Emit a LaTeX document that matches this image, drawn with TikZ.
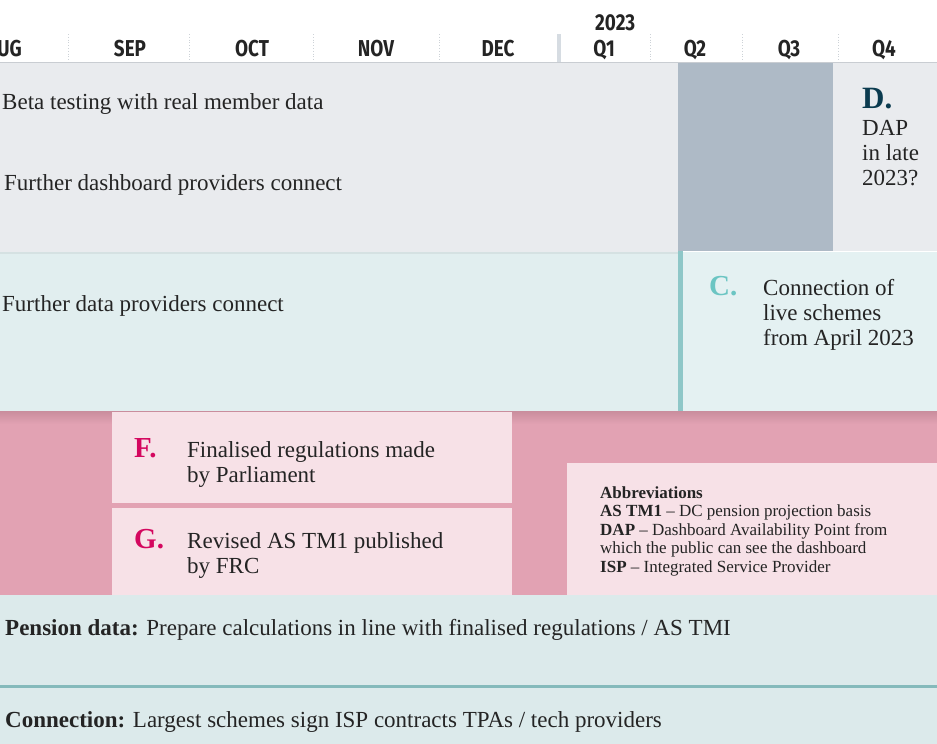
\documentclass[tikz,border=0pt]{standalone}
\usepackage{fontspec}
\setmainfont{Liberation Serif}
\newfontfamily\hdrfont[FakeStretch=0.82]{Fira Sans}

\definecolor{ink}{HTML}{242424}
\definecolor{hdrline}{HTML}{C9CDD2}
\definecolor{tick}{HTML}{CDD2D7}
\definecolor{yearbar}{HTML}{D6DCE2}
\definecolor{rowgray}{HTML}{E9EBEE}
\definecolor{slate}{HTML}{AEBAC6}
\definecolor{rowteal}{HTML}{E1EEEF}
\definecolor{panelteal}{HTML}{E4F1F2}
\definecolor{tealbar}{HTML}{8EC7C8}
\definecolor{rowpink}{HTML}{E2A2B3}
\definecolor{pinkshade}{HTML}{C98D9D}
\definecolor{boxpink}{HTML}{F7E1E7}
\definecolor{rowbase}{HTML}{DCEAEB}
\definecolor{tealrule}{HTML}{85BABB}
\definecolor{navyD}{HTML}{0B3B4F}
\definecolor{tealC}{HTML}{6BC5C3}
\definecolor{magenta}{HTML}{D4075F}

\tikzset{
  txt/.style={inner sep=0pt, anchor=base west, text=ink,
    font=\fontsize{23}{25}\selectfont},
  letter/.style={inner sep=0pt, anchor=base west,
    font=\fontsize{29}{30}\selectfont\bfseries},
  month/.style={inner sep=0pt, anchor=base, text=ink,
    font=\hdrfont\bfseries\fontsize{23}{23}\selectfont},
  abbr/.style={inner sep=0pt, anchor=base west, text=ink,
    font=\fontsize{17}{18}\selectfont},
  tickline/.style={draw=tick, line width=0.8pt, dotted},
}

\begin{document}
\begin{tikzpicture}[x=1pt,y=-1pt]
\useasboundingbox (0,0) rectangle (937,744);
\fill[white] (0,0) rectangle (937,744);

% ---------- header: months and quarters ----------
\foreach \xx in {68,189,313,439,650,742,838}
  \draw[tickline] (\xx,34) -- (\xx,62);
\fill[yearbar] (557,34) rectangle (561,62);
\draw[hdrline, line width=1.2pt] (0,62.5) -- (937,62.5);

\node[month, anchor=base east] (aug) at (22,56) {AUG};
\node[month] (sep) at (130,56) {SEP};
\node[month] (oct) at (252,56) {OCT};
\node[month] (nov) at (376,56) {NOV};
\node[month] (dec) at (498,56) {DEC};
\node[month] (q1) at (604,56) {Q1};
\node[month] (q2) at (695,56) {Q2};
\node[month] (q3) at (789,56) {Q3};
\node[month] (q4) at (884,56) {Q4};
\node[month, anchor=base west] (year) at (595,30) {2023};

% ---------- row 1: dashboards ----------
\fill[rowgray] (0,63) rectangle (937,252);
\fill[slate] (678,63) rectangle (833,251);
\node[txt] (beta) at (2,109) {Beta testing with real member data};
\node[txt] (dash) at (4,190) {Further dashboard providers connect};
\node[letter, text=navyD, font=\fontsize{31}{32}\selectfont\bfseries] (dlet) at (862,108) {D.};
\node[txt] (d1) at (862,135) {DAP};
\node[txt] (d2) at (862,160) {in late};
\node[txt] (d3) at (862,185) {2023?};

% ---------- row 2: data providers ----------
\fill[rowteal] (0,252) rectangle (678,411);
\fill[panelteal] (683,251) rectangle (937,411);
\draw[white, line width=0.8pt] (683,251.4) -- (937,251.4);
\fill[tealbar] (678,251) rectangle (683,411);
\fill[black, opacity=0.05] (0,252) rectangle (678,254);
\node[txt] (datap) at (2,311) {Further data providers connect};
\node[letter, text=tealC] (clet) at (709,295) {C.};
\node[txt] (c1) at (763,295) {Connection of};
\node[txt] (c2) at (763,320) {live schemes};
\node[txt] (c3) at (763,345) {from April 2023};

% ---------- row 3: regulations ----------
\fill[rowpink] (0,411) rectangle (937,595);
\shade[top color=pinkshade, bottom color=rowpink] (0,411) rectangle (937,424);
\fill[boxpink] (112,412) rectangle (512,503);
\fill[boxpink] (112,508) rectangle (512,595);
\fill[boxpink] (567,463) rectangle (937,595);

\node[letter, text=magenta] (flet) at (134,457) {F.};
\node[txt] (f1) at (187,457) {Finalised regulations made};
\node[txt] (f2) at (187,482) {by Parliament};
\node[letter, text=magenta] (glet) at (134,548) {G.};
\node[txt] (g1) at (187,548) {Revised AS TM1 published};
\node[txt] (g2) at (187,573) {by FRC};

\node[abbr] (ab0) at (600,498) {\bfseries Abbreviations};
\node[abbr] (ab1) at (600,516.6) {\textbf{AS TM1} -- DC pension projection basis};
\node[abbr] (ab2) at (600,535.2) {\textbf{DAP} -- Dashboard Availability Point from};
\node[abbr] (ab3) at (600,553.8) {which the public can see the dashboard};
\node[abbr] (ab4) at (600,572.4) {\textbf{ISP} -- Integrated Service Provider};

% ---------- rows 4 and 5: pension data and connection ----------
\fill[rowbase] (0,595) rectangle (937,744);
\fill[tealrule] (0,685) rectangle (937,688);
\node[txt] (pens) at (5,635) {\textbf{Pension data:} Prepare calculations in line with finalised regulations / AS TMI};
\node[txt] (conn) at (5,727) {\textbf{Connection:} Largest schemes sign ISP contracts TPAs / tech providers};
\end{tikzpicture}
\end{document}
